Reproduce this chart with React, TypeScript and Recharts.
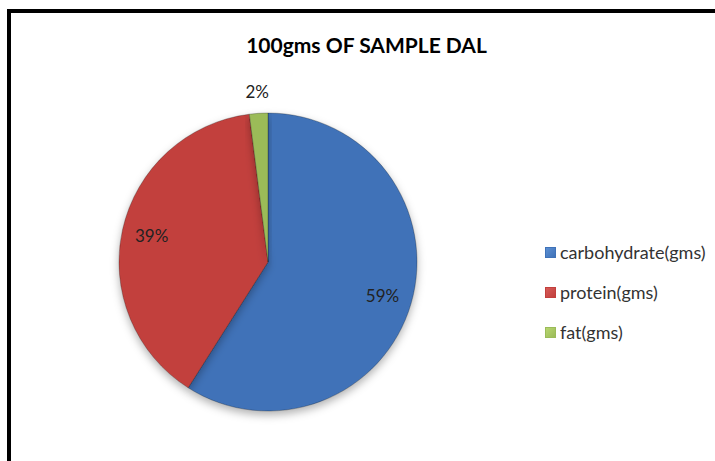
import { Cell, Pie, PieChart } from "recharts"

const categories = ["carbohydrate(gms)", "protein(gms)", "fat(gms)"]
const values = [59, 39, 2]
const colors = ["#3f72b8", "#c2403d", "#9bbb59"]
const lightColors = ["#5b8fd3", "#d65b57", "#b7d66f"]

const data = categories.map((name, i) => ({ name, value: values[i] }))

const RAD = Math.PI / 180

const renderLabel = (props: any) => {
  const { cx, cy, midAngle, outerRadius, percent } = props
  const r = percent < 0.05 ? outerRadius + 22 : outerRadius * 0.8
  const x = cx + r * Math.cos(-midAngle * RAD)
  const y = cy + r * Math.sin(-midAngle * RAD)
  return (
    <text
      x={x}
      y={y}
      textAnchor="middle"
      dominantBaseline="central"
      fill="#222"
      fontSize={17}
      fontFamily="Lato, sans-serif"
    >
      {`${(percent * 100).toFixed(0)}%`}
    </text>
  )
}

function LegendBox() {
  return (
    <div style={{ position: "absolute", left: 545, top: 232, fontFamily: "Lato, sans-serif", fontSize: 18, color: "#333" }}>
      {categories.map((c, i) => (
        <div key={c} style={{ display: "flex", alignItems: "center", height: 40 }}>
          <span
            style={{
              width: 9,
              height: 9,
              marginRight: 4,
              background: `linear-gradient(135deg, ${lightColors[i]}, ${colors[i]})`,
              border: `1px solid ${colors[i]}`,
            }}
          />
          <span>{c}</span>
        </div>
      ))}
    </div>
  )
}

export default function App() {
  return (
    <div style={{ position: "absolute", left: 0, top: 0, width: 715, height: 461, overflow: "hidden", background: "#fff" }}>
      <div
        style={{
          position: "absolute",
          left: 7,
          top: 9,
          width: 800,
          height: 600,
          border: "4px solid #000",
          boxSizing: "border-box",
        }}
      />
      <div
        style={{
          position: "absolute",
          left: 0,
          top: 32,
          width: 733,
          textAlign: "center",
          fontFamily: "Lato, sans-serif",
          fontWeight: 700,
          fontSize: 21,
          color: "#000",
        }}
      >
        100gms OF SAMPLE DAL
      </div>
      <div style={{ position: "absolute", left: 0, top: 0 }}>
        <PieChart width={715} height={461}>
          <defs>
            <filter id="shadow" x="-20%" y="-20%" width="140%" height="140%">
              <feDropShadow dx="0" dy="4" stdDeviation="4" floodColor="#000" floodOpacity="0.3" />
            </filter>
          </defs>
          <Pie
            data={data}
            dataKey="value"
            nameKey="name"
            cx={263}
            cy={257}
            outerRadius={149}
            startAngle={90}
            endAngle={-270}
            stroke="rgba(0,0,0,0.25)"
            strokeWidth={1}
            label={renderLabel}
            labelLine={false}
            isAnimationActive={false}
            style={{ filter: "url(#shadow)" }}
          >
            {data.map((entry, index) => (
              <Cell key={`cell-${index}`} fill={colors[index]} />
            ))}
          </Pie>
        </PieChart>
      </div>
      <LegendBox />
    </div>
  )
}
